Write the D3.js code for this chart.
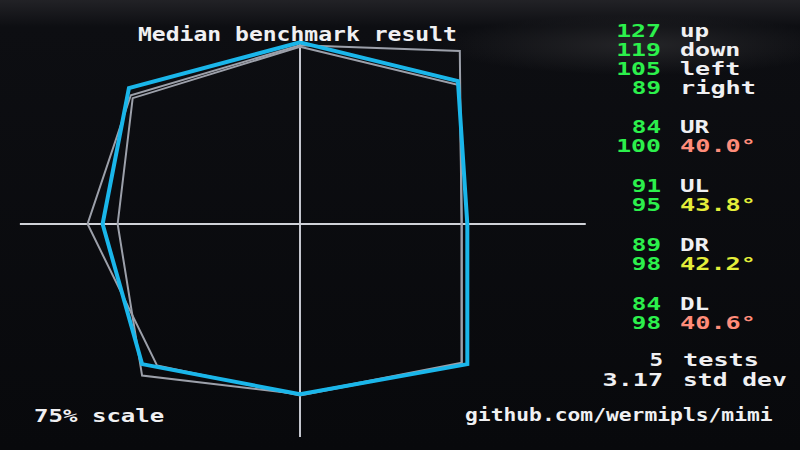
<!DOCTYPE html>
<html><head><meta charset="utf-8">
<script src="https://cdn.jsdelivr.net/npm/d3@7/dist/d3.min.js"></script>
<style>html,body{margin:0;background:#0a0b0e;} svg{display:block}</style>
</head><body><svg id="c" width="800" height="450"></svg>
<script>
// ---- data ----
const directions = ["up", "UR", "right", "DR", "down", "DL", "left", "UL"];
const medianX = [0, 84, 89, 89, 0, -84, -105, -91];
const medianY = [127, 100, 0, -98, -119, -98, 0, 95];
const testAX = [0, 85, 86, 86, 0, -76, -113, -90];
const testAY = [125, 121, 0, -98, -120, -99, 0, 90];
const testBX = [0, 85, 86, 86, 0, -84, -97, -89];
const testBY = [124, 97, 0, -97, -119, -106, 0, 88];

const cardinalLabels = ["up", "down", "left", "right"];
const cardinalValues = [127, 119, 105, 89];
const diagLabels = ["UR", "UL", "DR", "DL"];
const diagX = [84, 91, 89, 84];
const diagY = [100, 95, 98, 98];
const diagAngles = ["40.0°", "43.8°", "42.2°", "40.6°"];
const testCount = 5;
const stdDev = "3.17";
const titleText = "Median benchmark result";
const scaleText = "75% scale";
const urlText = "github.com/wermipls/mimi";

// ---- drawing ----
const svg = d3.select("#c");
const cx = 300, cy = 224;
const x = d3.scaleLinear().domain([-128, 128]).range([cx - 128 * 1.88, cx + 128 * 1.88]);
const y = d3.scaleLinear().domain([-128, 128]).range([cy + 128 * 1.43, cy - 128 * 1.43]);

const defs = svg.append("defs");
const bg = defs.append("linearGradient").attr("id", "bg").attr("x1", 0).attr("y1", 0).attr("x2", 0).attr("y2", 1);
bg.append("stop").attr("offset", 0).attr("stop-color", "#222226");
bg.append("stop").attr("offset", 0.06).attr("stop-color", "#0d0e12");
bg.append("stop").attr("offset", 1).attr("stop-color", "#08090c");
svg.append("rect").attr("width", 800).attr("height", 450).attr("fill", "url(#bg)");
const glow = defs.append("radialGradient").attr("id", "glow");
glow.append("stop").attr("offset", 0).attr("stop-color", "#2a2a2d").attr("stop-opacity", 0.8);
glow.append("stop").attr("offset", 1).attr("stop-color", "#2a2a2d").attr("stop-opacity", 0);
svg.append("ellipse").attr("cx", 640).attr("cy", 45).attr("rx", 200).attr("ry", 30).attr("fill", "url(#glow)");

// axes
svg.append("line").attr("x1", x(0)).attr("x2", x(0)).attr("y1", y(127)).attr("y2", y(-149))
  .attr("stroke", "#c4c6ce").attr("stroke-width", 2);
svg.append("line").attr("x1", x(-149)).attr("x2", x(152)).attr("y1", y(0)).attr("y2", y(0))
  .attr("stroke", "#d0d2d8").attr("stroke-width", 2);

const line = d3.line().x(d => x(d[0])).y(d => y(d[1])).curve(d3.curveLinearClosed);
const pts = (xs, ys) => xs.map((v, i) => [v, ys[i]]);

[[testAX, testAY], [testBX, testBY]].forEach(([xs, ys]) => {
  svg.append("path").attr("d", line(pts(xs, ys))).attr("fill", "none")
    .attr("stroke", "#9ca0aa").attr("stroke-width", 2).attr("stroke-linejoin", "miter");
});
svg.append("path").attr("d", line(pts(medianX, medianY))).attr("fill", "none")
  .attr("stroke", "#1ab6ea").attr("stroke-width", 4).attr("stroke-linejoin", "miter");

// text helper
const FONT = "'DejaVu Sans Mono', monospace";
function txt(str, xPos, yPos, adv, color, anchor, size) {
  const len = str.length * adv - 2;
  const x0 = anchor === "end" ? xPos - len : xPos;
  svg.append("text").attr("x", x0).attr("y", yPos).text(str)
    .attr("font-family", FONT).attr("font-weight", "bold").attr("font-size", size || 18)
    .attr("fill", color).attr("textLength", len).attr("lengthAdjust", "spacingAndGlyphs");
}
const GREEN = "#2cf04c", WHITE = "#f0f0f2";
const angleColor = a => parseFloat(a) >= 42 ? "#e4ee3a" : "#ff8c7a";

txt(titleText, 138, 41, 13.95, WHITE, "start", 19);

cardinalLabels.forEach((lab, i) => {
  const by = 36.7 + i * 19.2;
  txt(String(cardinalValues[i]), 661, by, 15.6, GREEN, "end");
  txt(lab, 680, by, 15.6, WHITE, "start");
});
diagLabels.forEach((lab, i) => {
  const by = 132.7 + i * 59;
  txt(String(diagX[i]), 661, by, 15.6, GREEN, "end");
  txt(lab, 680, by, 15.6, WHITE, "start");
  txt(String(diagY[i]), 661, by + 19.6, 15.6, GREEN, "end");
  txt(diagAngles[i], 680, by + 19.6, 15.6, angleColor(diagAngles[i]), "start");
});
txt(String(testCount), 663, 366, 15.6, WHITE, "end");
txt("tests", 683, 366, 15.6, WHITE, "start");
txt(stdDev, 663, 386, 15.6, WHITE, "end");
txt("std dev", 683, 386, 15.1, WHITE, "start");

txt(scaleText, 34, 422, 14.7, WHITE, "start");
txt(urlText, 465, 421, 12.9, WHITE, "start");
</script></body></html>
